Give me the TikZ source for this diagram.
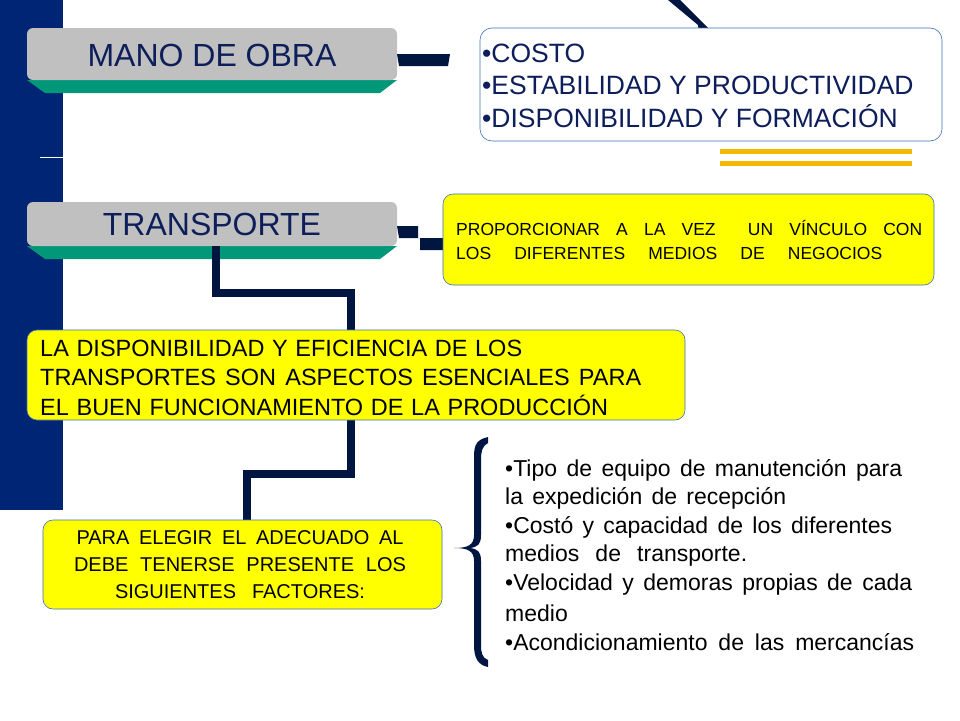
\documentclass[tikz,border=0pt]{standalone}
\usepackage{fontspec}
\setmainfont{Liberation Sans}
\definecolor{navy}{HTML}{002574}
\definecolor{dnavy}{HTML}{001540}
\definecolor{tealg}{HTML}{009878}
\definecolor{boxgray}{HTML}{C0C0C0}
\definecolor{ylw}{HTML}{FFFF00}
\definecolor{bord}{HTML}{3D6FC0}
\definecolor{orng}{HTML}{F5B800}
\definecolor{txtn}{HTML}{0D1E5A}
\newcommand{\jb}[2]{\makebox[#1pt][s]{#2}}
\begin{document}
\begin{tikzpicture}[x=1pt,y=-1pt,
  hdr/.style={fill=boxgray,rounded corners=6pt,draw=none},
  ybox/.style={fill=ylw,draw=bord,rounded corners=10pt,line width=0.6pt},
  conn/.style={draw=dnavy,line width=8pt},
  txt/.style={inner sep=0pt,anchor=west,font=\fontsize{23}{23}\selectfont}]
\useasboundingbox (0,0) rectangle (960,720);
% left bar
\fill[navy] (0,0) rectangle (63,510);
\draw[white,line width=1pt] (40,157) -- (63,157);
% top connector
\fill[dnavy] (668,0) -- (680,0) -- (708,28) -- (708,40) -- (700,40) -- (698,25) -- cycle;
% headers
\fill[tealg] (27,80) -- (397,80) -- (380,93) -- (45,93) -- cycle;
\fill[tealg] (27,246) -- (397,246) -- (380,259) -- (45,259) -- cycle;
\path[hdr] (27,28) rectangle (397,80);
\path[hdr] (27,202) rectangle (397,246);
\node[font=\fontsize{32}{32}\selectfont,text=txtn] (mano) at (212,55) {MANO DE OBRA};
\node[font=\fontsize{32}{32}\selectfont,text=txtn] (trans) at (212,224) {TRANSPORTE};
% connectors
\fill[dnavy] (397,54) -- (450,54) -- (448,66) -- (399,66) -- cycle;
\fill[dnavy] (397,226) -- (418,226) -- (418,238) -- (443,238) -- (443,250) -- (420,250) -- (420,238) -- (399,238) -- cycle;
\draw[conn,line cap=butt,line join=miter] (216,246) -- (216,293) -- (351,293) -- (351,331);
\draw[conn,line cap=butt,line join=miter] (351,420) -- (351,474) -- (247,474) -- (247,521);
% top-right box
\draw[draw=bord,fill=white,rounded corners=12pt,line width=0.6pt] (480,28) rectangle (942,141);
\node[txt,text=txtn,font=\fontsize{26.5}{26.5}\selectfont] (c1) at (482,53) {•COSTO};
\node[txt,text=txtn,font=\fontsize{26.5}{26.5}\selectfont] (c2) at (482,85) {•ESTABILIDAD Y PRODUCTIVIDAD};
\node[txt,text=txtn,font=\fontsize{26.5}{26.5}\selectfont] (c3) at (482,116) {•DISPONIBILIDAD Y FORMACIÓN};
% orange lines
\draw[orng,line width=5pt] (720,151) -- (912,151);
\draw[orng,line width=5pt] (720,163) -- (912,163);
% yellow boxes
\path[ybox] (443,194) rectangle (934,285);
\node[txt,font=\fontsize{17.5}{17.5}\selectfont] (p1) at (456,228) {\jb{466}{PROPORCIONAR A LA VEZ \ UN VÍNCULO CON}};
\node[txt,font=\fontsize{17.5}{17.5}\selectfont] (p2) at (456,253) {\jb{426}{LOS DIFERENTES MEDIOS DE NEGOCIOS}};
\path[ybox] (27,330) rectangle (685,420);
\node[txt,font=\fontsize{23.5}{23.5}\selectfont] (d1) at (40,348) {\jb{482}{LA DISPONIBILIDAD Y EFICIENCIA DE LOS}};
\node[txt,font=\fontsize{23.5}{23.5}\selectfont] (d2) at (40,377) {\jb{601}{TRANSPORTES SON ASPECTOS ESENCIALES PARA}};
\node[txt,font=\fontsize{23.5}{23.5}\selectfont] (d3) at (40,405) {\jb{568}{EL BUEN FUNCIONAMIENTO DE LA PRODUCCIÓN}};
\path[ybox] (43,520) rectangle (442,609);
\node[font=\fontsize{20}{20}\selectfont,inner sep=0pt] (e1) at (240,538) {\jb{327}{PARA ELEGIR EL ADECUADO AL}};
\node[font=\fontsize{20}{20}\selectfont,inner sep=0pt] (e2) at (240,565) {\jb{332}{DEBE TENERSE PRESENTE LOS}};
\node[font=\fontsize{20}{20}\selectfont,inner sep=0pt] (e3) at (240,592) {\jb{250}{SIGUIENTES FACTORES:}};
% brace
\fill[dnavy] (488,437) .. controls (474,440) and (474,448) .. (474,460) -- (474,535) .. controls (474,545) and (468,548) .. (454,548)
  .. controls (468,548) and (474,551) .. (474,561) -- (474,645) .. controls (474,658) and (478,665) .. (488,667)
  -- (488,660) .. controls (482,658) and (481,652) .. (481,645) -- (481,561) .. controls (481,552) and (478,549) .. (470,548)
  .. controls (478,547) and (481,544) .. (481,535) -- (481,460) .. controls (481,452) and (482,446) .. (488,443) -- cycle;
\node[txt] (b1) at (505,470) {\jb{397}{•Tipo de equipo de manutención para}};
\node[txt] (b2) at (505,498) {\jb{281}{la expedición de recepción}};
\node[txt] (b3) at (505,527) {\jb{387}{•Costó y capacidad de los diferentes}};
\node[txt] (b4) at (505,556) {\jb{242}{medios de transporte.}};
\node[txt] (b5) at (505,585) {\jb{407}{•Velocidad y demoras propias de cada}};
\node[txt] (b6) at (505,613) {medio};
\node[txt] (b7) at (505,642) {\jb{409}{•Acondicionamiento de las mercancías}};
\end{tikzpicture}
\end{document}
